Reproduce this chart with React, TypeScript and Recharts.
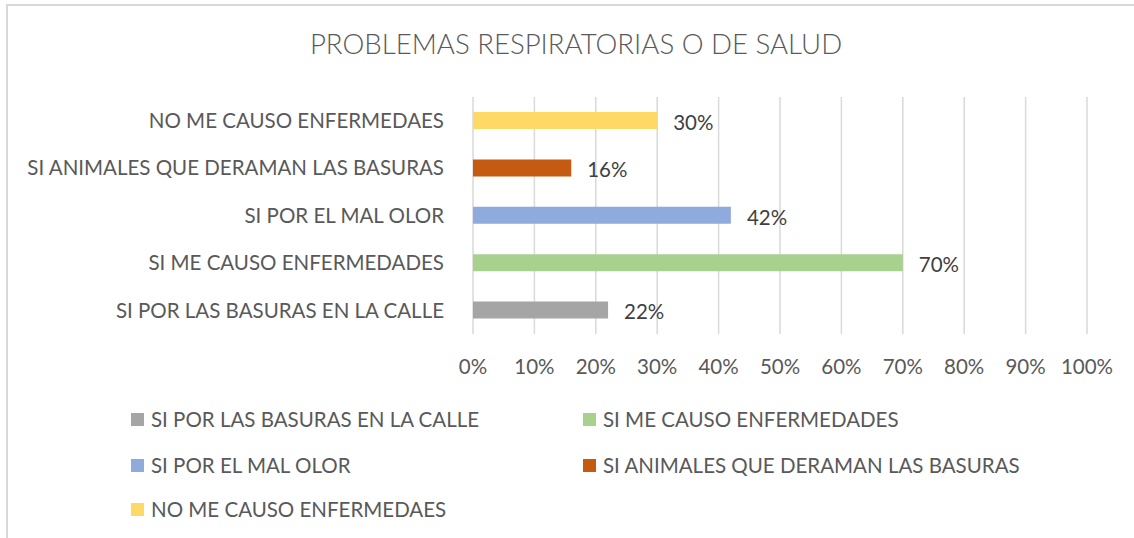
import { BarChart, Bar, XAxis, YAxis, CartesianGrid, Cell, LabelList, Legend } from 'recharts'

const categories = [
    'SI POR LAS BASURAS EN LA CALLE',
    'SI ME CAUSO ENFERMEDADES',
    'SI POR EL MAL OLOR',
    'SI ANIMALES QUE DERAMAN LAS BASURAS',
    'NO ME CAUSO ENFERMEDAES',
]
const values = [0.22, 0.7, 0.42, 0.16, 0.3]
const colors = ['#a5a5a5', '#a9d18e', '#8faadc', '#c55a11', '#ffd966']
const xTicks = [0, 0.1, 0.2, 0.3, 0.4, 0.5, 0.6, 0.7, 0.8, 0.9, 1]

const FONT = 'Lato, "Open Sans", sans-serif'
const FS = 20.5
const pct = (v: number) => `${Math.round(v * 100)}%`

const data = categories.map((name, i) => ({ name, value: values[i] }))

// legend laid out in two columns like the spreadsheet one
function LegendBox() {
    const cols = [131, 583]
    const rows = [412, 458, 502]
    return (
        <div style={{ position: 'relative', width: 1134, height: 0 }}>
            {categories.map((name, i) => (
                <div
                    key={name}
                    style={{
                        position: 'absolute',
                        left: cols[i % 2],
                        top: rows[Math.floor(i / 2)] - 405,
                        display: 'flex',
                        alignItems: 'center',
                        whiteSpace: 'nowrap',
                        fontFamily: FONT,
                        fontSize: FS,
                        color: '#595959',
                        lineHeight: '14px',
                    }}
                >
                    <span style={{ width: 13, height: 13, background: colors[i], display: 'inline-block', marginRight: 7 }} />
                    {name}
                </div>
            ))}
        </div>
    )
}

export default function App() {
    return (
        <div style={{ position: 'fixed', left: 0, top: 0, width: 1134, height: 538, background: '#fff', overflow: 'hidden' }}>
            <div style={{ position: 'absolute', left: 6, top: 4, width: 1140, height: 560, border: '2px solid #d9d9d9', boxSizing: 'border-box' }} />
            <div
                style={{
                    position: 'absolute', left: 0, top: 27, width: 1152, textAlign: 'center',
                    fontFamily: FONT, fontWeight: 300, fontSize: 27.6, color: '#595959',
                }}
            >
                PROBLEMAS RESPIRATORIAS O DE SALUD
            </div>
            <div style={{ position: 'absolute', left: 0, top: 0 }}>
                <BarChart
                    width={1134}
                    height={538}
                    data={data}
                    layout="vertical"
                    margin={{ top: 97, right: 47, bottom: 174, left: 0 }}
                    barCategoryGap={0}
                >
                    <CartesianGrid horizontal={false} stroke="#d9d9d9" strokeWidth={1.5} />
                    <XAxis
                        type="number"
                        domain={[0, 1]}
                        ticks={xTicks}
                        tickFormatter={pct}
                        height={30}
                        axisLine={false}
                        tickLine={false}
                        tickSize={0}
                        tickMargin={25}
                        tick={{ fontSize: FS, fill: '#595959', fontFamily: FONT }}
                        interval={0}
                    />
                    <YAxis
                        type="category"
                        dataKey="name"
                        reversed
                        width={473}
                        axisLine={false}
                        tickLine={false}
                        tickSize={0}
                        tickMargin={29}
                        tick={{ fontSize: FS, fill: '#595959', fontFamily: FONT }}
                        interval={0}
                    />
                    <Legend
                        content={() => <LegendBox />}
                        wrapperStyle={{ position: 'absolute', left: 0, top: 405, width: 1134, height: 0 }}
                    />
                    <Bar dataKey="value" barSize={17} isAnimationActive={false}>
                        {data.map((d, i) => (
                            <Cell key={d.name} fill={colors[i]} />
                        ))}
                        <LabelList
                            dataKey="value"
                            position="right"
                            offset={16}
                            formatter={(v: any) => pct(Number(v))}
                            style={{ fontSize: FS, fill: '#404040', fontFamily: FONT, transform: 'translateY(2px)' }}
                        />
                    </Bar>
                </BarChart>
            </div>
        </div>
    )
}
